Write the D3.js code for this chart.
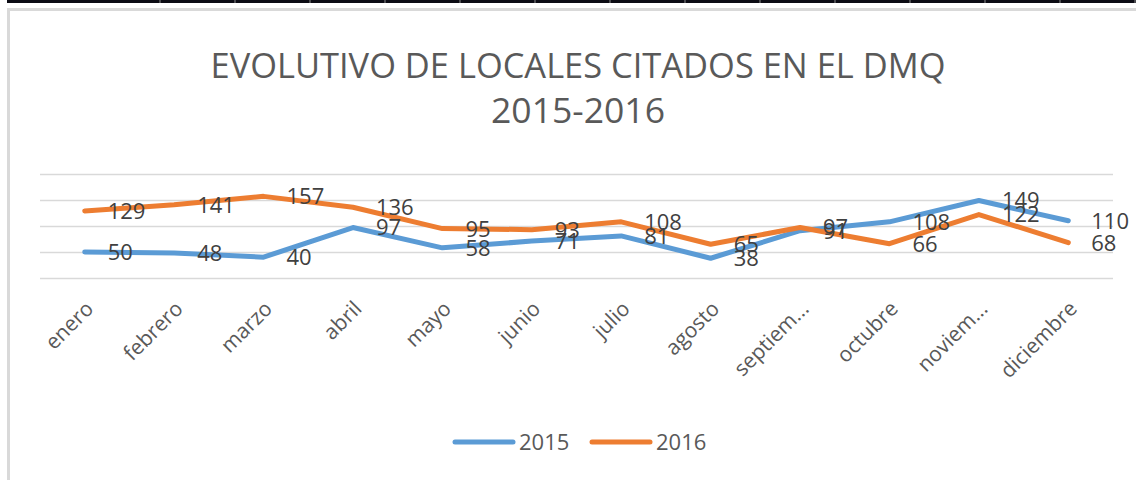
<!DOCTYPE html>
<html>
<head>
<meta charset="utf-8">
<script src="https://cdn.jsdelivr.net/npm/d3@7"></script>
<style>
  body { margin: 0; background: #fff; }
  svg { display: block; font-family: "Open Sans", sans-serif; }
</style>
</head>
<body>
<svg id="chart"></svg>
<script>
// chart data
var months = ["enero", "febrero", "marzo", "abril", "mayo", "junio", "julio",
              "agosto", "septiem...", "octubre", "noviem...", "diciembre"];
var values2015 = [50, 48, 40, 97, 58, 71, 81, 38, 91, 108, 149, 110];
var values2016 = [129, 141, 157, 136, 95, 93, 108, 65, 97, 66, 122, 68];
var seriesNames = ["2015", "2016"];
var seriesColors = ["#5b9bd5", "#ed7d31"];
var gridValues = [0, 50, 100, 150, 200];

var width = 1136, height = 480;
var margin = {left: 40, right: 23, top: 174, bottom: 202};

var svg = d3.select("#chart")
    .attr("width", width)
    .attr("height", height);

// spreadsheet strip at the very top
svg.append("rect")
    .attr("x", 7).attr("y", 0)
    .attr("width", width).attr("height", 3)
    .style("fill", "#0b0b14");

var sepX = d3.range(160, width, 75);
svg.selectAll(".sep")
  .data(sepX)
  .enter()
  .append("line")
    .attr("class", "sep")
    .attr("x1", d => d).attr("x2", d => d)
    .attr("y1", 0).attr("y2", 3)
    .style("stroke", "#8a8a8a")
    .style("stroke-width", 1);

// chart area border
svg.append("rect")
    .attr("x", 8.5).attr("y", 9.5)
    .attr("width", width + 20).attr("height", height + 20)
    .style("fill", "#fff")
    .style("stroke", "#d9d9d9")
    .style("stroke-width", 3);

// title
var title = svg.append("text")
    .attr("x", 578)
    .attr("text-anchor", "middle")
    .style("fill", "#595959")
    .style("font-size", "35px");
title.append("tspan")
    .attr("x", 578).attr("y", 78)
    .attr("textLength", 735)
    .attr("lengthAdjust", "spacingAndGlyphs")
    .text("EVOLUTIVO DE LOCALES CITADOS EN EL DMQ");
title.append("tspan")
    .attr("x", 578).attr("y", 123)
    .attr("textLength", 174)
    .attr("lengthAdjust", "spacingAndGlyphs")
    .text("2015-2016");

var x = d3.scaleBand()
    .domain(months)
    .range([margin.left, width - margin.right]);

var y = d3.scaleLinear()
    .domain([0, 200])
    .range([height - margin.bottom, margin.top]);

// gridlines
svg.selectAll(".grid")
  .data(gridValues)
  .enter()
  .append("line")
    .attr("class", "grid")
    .attr("x1", margin.left)
    .attr("x2", width - margin.right)
    .attr("y1", d => Math.round(y(d)) + 0.5)
    .attr("y2", d => Math.round(y(d)) + 0.5)
    .style("stroke", "#d9d9d9")
    .style("stroke-width", 1.5);

// category labels, rotated
var xAxis = svg.append("g")
    .attr("transform", "translate(0," + (height - margin.bottom) + ")")
    .call(d3.axisBottom(x).tickSize(0).tickPadding(0));
xAxis.select(".domain").remove();
xAxis.selectAll("text")
    .attr("x", 0)
    .attr("y", 0)
    .attr("dy", 0)
    .attr("transform", "translate(10,32) rotate(-45)")
    .style("text-anchor", "end")
    .style("font-family", "\"Open Sans\", sans-serif")
    .style("font-size", "21px")
    .style("fill", "#595959");

var series = [values2015, values2016];

var line = d3.line()
    .x((d, i) => x(months[i]) + x.bandwidth() / 2)
    .y(d => y(d));

svg.selectAll(".series")
  .data(series)
  .enter()
  .append("path")
    .attr("class", "series")
    .attr("d", d => line(d))
    .style("fill", "none")
    .style("stroke", (d, i) => seriesColors[i])
    .style("stroke-width", 5)
    .style("stroke-linejoin", "round")
    .style("stroke-linecap", "round");

// data labels to the right of each point
series.forEach(function(vals) {
  svg.append("g")
    .selectAll("text")
    .data(vals)
    .enter()
    .append("text")
      .attr("x", (d, i) => x(months[i]) + x.bandwidth() / 2 + 23)
      .attr("y", d => y(d))
      .attr("dy", "0.36em")
      .style("font-size", "22px")
      .style("fill", "#404040")
      .text(d => d);
});

// legend
var legend = svg.selectAll(".legend")
  .data(seriesNames)
  .enter()
  .append("g")
    .attr("class", "legend")
    .attr("transform", (d, i) => "translate(" + (455 + i * 137) + ",442)");

legend.append("line")
    .attr("x1", 0).attr("x2", 58)
    .attr("y1", 0).attr("y2", 0)
    .style("stroke", (d, i) => seriesColors[i])
    .style("stroke-width", 5)
    .style("stroke-linecap", "round");

legend.append("text")
    .attr("x", 64)
    .attr("dy", "0.36em")
    .style("font-size", "22px")
    .style("fill", "#595959")
    .text(d => d);
</script>
</body>
</html>
